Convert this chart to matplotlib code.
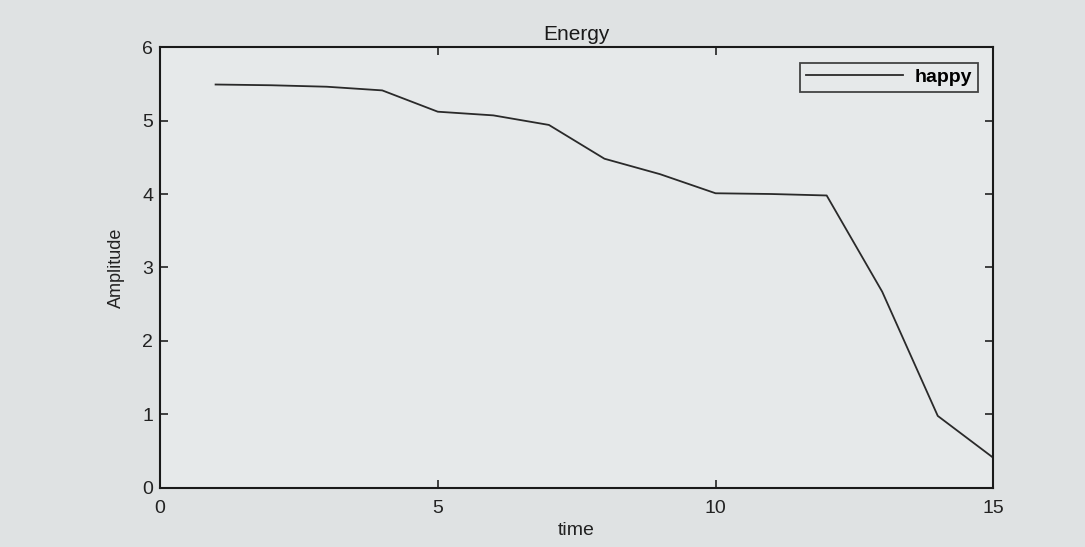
import matplotlib
matplotlib.use("Agg")
import matplotlib.pyplot as plt

time = [1, 2, 3, 4, 5, 6, 7, 8, 9, 10, 11, 12, 13, 14, 15]
happy = [5.49, 5.48, 5.46, 5.41, 5.12, 5.07, 4.94, 4.48, 4.27, 4.01, 4.00, 3.98, 2.67, 0.98, 0.41]
xticks = [0, 5, 10, 15]
yticks = [0, 1, 2, 3, 4, 5, 6]

plt.rcParams['font.family'] = ['Liberation Sans', 'DejaVu Sans']

fig = plt.figure(figsize=(10.85, 5.47), dpi=100, facecolor='#dfe2e3')
ax = fig.add_axes([0.1475, 0.108, 0.768, 0.806])
ax.set_facecolor('#e6e9ea')
ax.plot(time, happy, color='#2a2a2a', linewidth=1.3, label='happy')
ax.set_xlim(0, 15)
ax.set_ylim(0, 6)
ax.set_xticks(xticks)
ax.set_yticks(yticks)
ax.tick_params(direction='in', top=True, right=True, length=6, width=1.2,
               labelsize=14, colors='#222222')
ax.tick_params(axis='x', pad=9)
ax.tick_params(axis='y', pad=5)
for s in ax.spines.values():
    s.set_linewidth(1.5)
    s.set_color('#1a1a1a')
ax.set_title('Energy', fontsize=15, color='#1a1a1a', pad=5)
ax.set_xlabel('time', fontsize=14, color='#222222', labelpad=3)
ax.set_ylabel('Amplitude', fontsize=13, color='#222222', labelpad=12)
leg = ax.legend(loc='upper right', fontsize=14, frameon=True, fancybox=False,
                edgecolor='#1a1a1a', facecolor='#e6e9ea', handlelength=5.0,
                handletextpad=0.6, borderpad=0.3, borderaxespad=0.8)
leg.get_frame().set_linewidth(1.3)
for t in leg.get_texts():
    t.set_fontweight('bold')
fig.savefig('out.png', dpi=100, facecolor=fig.get_facecolor())
